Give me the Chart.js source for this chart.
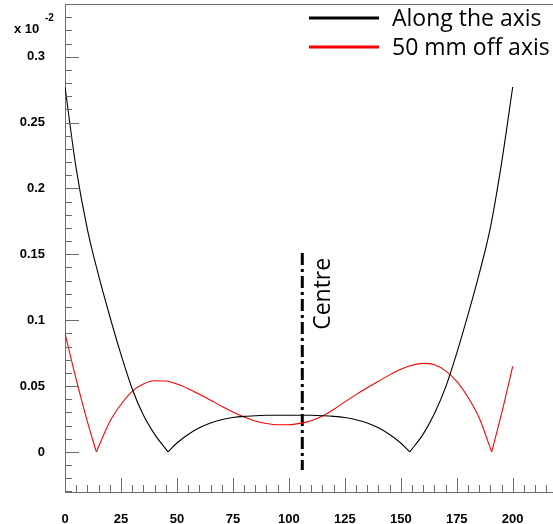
<!DOCTYPE html>
<html>
<head>
<meta charset="utf-8">
<script src="https://cdn.jsdelivr.net/npm/chart.js@4.4.1/dist/chart.umd.min.js"></script>
<style>
  html, body { margin: 0; padding: 0; background: #fff; }
  #wrap { width: 553px; height: 524px; position: relative; }
</style>
</head>
<body>
<div id="wrap"><canvas id="chart"></canvas></div>
<script>
// values (y in units of 10^-2)
const alongPos  = [0, 5, 10, 15, 20, 25, 30, 35, 40, 46, 50, 55, 60, 65, 70, 75, 80, 85, 90, 95, 100,
                   105, 110, 115, 120, 125, 130, 135, 140, 145, 150, 154, 160, 165, 170, 175, 180, 185, 190, 195, 200];
const alongVals = [0.277, 0.215, 0.169, 0.134, 0.103, 0.074, 0.048, 0.028, 0.0135, 0, 0.0068, 0.0133, 0.0183, 0.022, 0.0245, 0.0261, 0.0270, 0.0275, 0.0278, 0.0279, 0.0279,
                   0.0279, 0.0278, 0.0275, 0.0270, 0.0261, 0.0245, 0.022, 0.0183, 0.0133, 0.0068, 0, 0.0135, 0.029, 0.049, 0.075, 0.104, 0.135, 0.170, 0.219, 0.277];

const offPos  = [0, 5, 10, 14, 20, 25, 30, 35, 40, 45, 50, 55, 60, 65, 70, 75, 80, 85, 90, 95, 100,
                 105, 110, 115, 120, 125, 130, 135, 140, 145, 150, 155, 160, 165, 170, 175, 180, 185, 190.6, 195, 200];
const offVals = [0.090, 0.055, 0.023, 0, 0.023, 0.036, 0.046, 0.0515, 0.054, 0.0538, 0.0515, 0.048, 0.0438, 0.0393, 0.0347, 0.0303, 0.0265, 0.0235, 0.0216, 0.0207, 0.0207,
                 0.0217, 0.0237, 0.0272, 0.0322, 0.038, 0.0435, 0.0487, 0.0537, 0.0585, 0.0627, 0.0658, 0.0672, 0.0662, 0.0615, 0.0535, 0.0415, 0.026, 0, 0.029, 0.065];

const centrePos  = 106;
const centreSpan = [0.151, -0.0137];

const seriesNames  = ['Along the axis', '50 mm off axis'];
const seriesColors = ['#000000', '#ff0000'];
const xTicks = [0, 25, 50, 75, 100, 125, 150, 175, 200];
const yTicks = [0, 0.05, 0.1, 0.15, 0.2, 0.25, 0.3];

// cut a curve at its zero points so the cusps stay sharp
function splitAtZeros(xs, ys) {
    const parts = [];
    let cur = [];
    xs.forEach((x, i) => {
        cur.push({ x: x, y: ys[i] });
        if (ys[i] === 0 && i > 0 && i < xs.length - 1) {
            parts.push(cur);
            cur = [{ x: x, y: ys[i] }];
        }
    });
    parts.push(cur);
    return parts;
}

const datasets = [];
[[alongPos, alongVals], [offPos, offVals]].forEach(([xs, ys], s) => {
    splitAtZeros(xs, ys).forEach((pts, j) => {
        datasets.push({
            label: seriesNames[s],
            legend: j === 0,
            data: pts,
            borderColor: seriesColors[s],
            borderWidth: 1.1,
            cubicInterpolationMode: 'monotone'
        });
    });
});
datasets.push({
    label: 'Centre',
    data: centreSpan.map(v => ({ x: centrePos, y: v })),
    borderColor: '#000000',
    borderWidth: 3,
    borderDash: [12, 4, 3, 4]
});

const axisColor = '#6a6a6a';
const tickFont = 'bold 13px "Liberation Sans", Arial, sans-serif';

const decorPlugin = {
    id: 'decor',
    afterDraw(chart) {
        const ctx = chart.ctx;
        const xs = chart.scales.x, ys = chart.scales.y;
        const area = chart.chartArea;
        ctx.save();

        // top frame
        ctx.strokeStyle = axisColor;
        ctx.lineWidth = 1;
        ctx.beginPath();
        ctx.moveTo(area.left, area.top + 0.5);
        ctx.lineTo(area.right, area.top + 0.5);
        ctx.stroke();

        // inward tick marks on y
        ctx.beginPath();
        for (let k = -3; k <= 34; k++) {
            const py = Math.round(ys.getPixelForValue(k / 100)) + 0.5;
            const len = (k % 5 === 0) ? 14 : 7;
            ctx.moveTo(area.left, py);
            ctx.lineTo(area.left + len, py);
        }
        // inward tick marks on x
        for (let k = 0; k * 5 <= xs.max; k++) {
            const px = Math.round(xs.getPixelForValue(k * 5)) + 0.5;
            const len = (k % 5 === 0) ? 14 : 7;
            ctx.moveTo(px, area.bottom);
            ctx.lineTo(px, area.bottom - len);
        }
        ctx.stroke();

        // tick labels
        ctx.fillStyle = '#000';
        ctx.font = tickFont;
        ctx.textAlign = 'right';
        ctx.textBaseline = 'middle';
        yTicks.forEach(v => ctx.fillText(String(v), area.left - 20, ys.getPixelForValue(v)));
        ctx.textAlign = 'center';
        ctx.textBaseline = 'alphabetic';
        xTicks.forEach(v => ctx.fillText(String(v), xs.getPixelForValue(v), area.bottom + 31));

        // exponent
        ctx.textAlign = 'left';
        ctx.fillText('x 10', 14, 33);
        ctx.font = 'bold 10px "Liberation Sans", Arial, sans-serif';
        ctx.fillText('-2', 45, 21);

        // centre label
        ctx.save();
        ctx.translate(xs.getPixelForValue(centrePos) + 28, ys.getPixelForValue(0.12));
        ctx.rotate(-Math.PI / 2);
        ctx.font = '23px "Open Sans", sans-serif';
        ctx.textAlign = 'center';
        ctx.textBaseline = 'alphabetic';
        ctx.fillText('Centre', 0, 0);
        ctx.restore();

        // legend
        ctx.font = '23px "Open Sans", sans-serif';
        ctx.textAlign = 'left';
        ctx.textBaseline = 'middle';
        const rows = [18, 47];
        chart.data.datasets.filter(ds => ds.legend).forEach((ds, i) => {
            ctx.strokeStyle = ds.borderColor;
            ctx.lineWidth = 3;
            ctx.beginPath();
            ctx.moveTo(309, rows[i]);
            ctx.lineTo(379, rows[i]);
            ctx.stroke();
            ctx.fillStyle = '#000';
            ctx.fillText(ds.label, 392, rows[i] + 1);
        });

        ctx.restore();
    }
};

new Chart(document.getElementById('chart'), {
    type: 'line',
    data: { datasets: datasets },
    options: {
        responsive: true,
        maintainAspectRatio: false,
        animation: false,
        devicePixelRatio: 1,
        layout: { padding: { top: 4, right: 0, left: 0, bottom: 0 } },
        elements: {
            point: { radius: 0, hoverRadius: 0 }
        },
        scales: {
            x: {
                type: 'linear',
                min: 0,
                max: 218,
                grid: { display: false },
                border: { display: true, color: axisColor, width: 1 },
                ticks: { display: false },
                afterFit: s => { s.height = 32; }
            },
            y: {
                type: 'linear',
                min: -0.0304,
                max: 0.340,
                grid: { display: false },
                border: { display: true, color: axisColor, width: 1 },
                ticks: { display: false },
                afterFit: s => { s.width = 65; }
            }
        },
        plugins: {
            legend: { display: false },
            tooltip: { enabled: false }
        }
    },
    plugins: [decorPlugin]
});
</script>
</body>
</html>
